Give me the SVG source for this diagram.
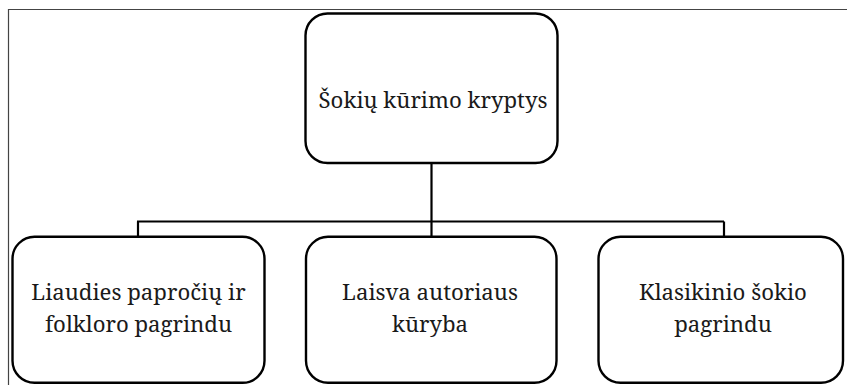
<svg xmlns="http://www.w3.org/2000/svg" width="847" height="385" viewBox="0 0 847 385">
<style>
.node rect{fill:#fff;stroke:#000;stroke-width:2.4}
.node text{font-family:"Noto Serif","Liberation Serif","DejaVu Serif",serif;font-size:22.2px;fill:#1a1a1a;text-anchor:middle}
.conn line{stroke:#000;stroke-width:2.2}
</style>
<rect x="0" y="0" width="847" height="385" fill="#fff"/>
<path d="M8.5 385 V9.5 H847" fill="none" stroke="#444" stroke-width="1.2"/>
<g id="connectors" class="conn">
<line x1="431.5" y1="163" x2="431.5" y2="237"/>
<line x1="137" y1="221.5" x2="724" y2="221.5"/>
<line x1="138" y1="221.5" x2="138" y2="237"/>
<line x1="724" y1="221.5" x2="724" y2="237"/>
</g>
<g id="top" class="node">
<rect x="305.5" y="13.5" width="252" height="149.5" rx="22"/>
<text x="433" y="108">Šokių kūrimo kryptys</text>
</g>
<g id="left" class="node">
<rect x="12.5" y="236.8" width="252" height="146" rx="22"/>
<text x="138.5" y="300">Liaudies papročių ir</text>
<text x="138.5" y="332">folkloro pagrindu</text>
</g>
<g id="middle" class="node">
<rect x="306" y="236.8" width="250.5" height="146" rx="22"/>
<text x="430" y="300">Laisva autoriaus</text>
<text x="430" y="332">kūryba</text>
</g>
<g id="right" class="node">
<rect x="598.5" y="236.8" width="244.5" height="146" rx="22"/>
<text x="723" y="300">Klasikinio šokio</text>
<text x="723" y="332">pagrindu</text>
</g>
</svg>
